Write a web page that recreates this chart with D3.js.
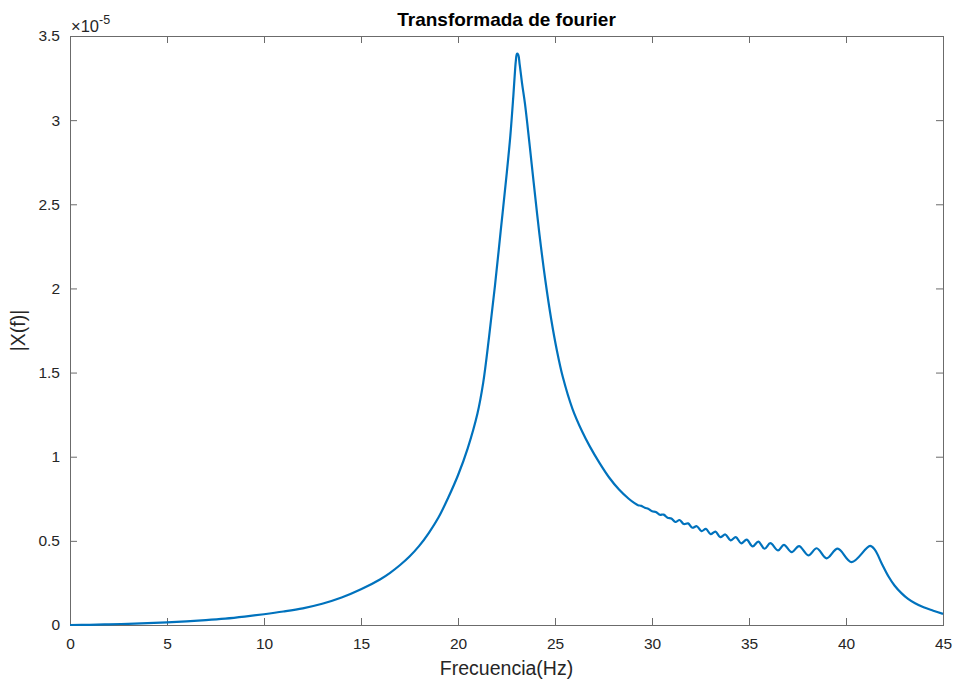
<!DOCTYPE html>
<html>
<head>
<meta charset="utf-8">
<script src="https://cdn.jsdelivr.net/npm/d3@7"></script>
<style>
  html, body { margin: 0; padding: 0; background: #ffffff; }
  svg { display: block; font-family: "Liberation Sans", Arial, Helvetica, sans-serif; }
</style>
</head>
<body>
<svg id="chart" width="959" height="684"></svg>
<script>
// ---- Data (magnitude in units of 1e-5) ----
const freq = [
  0, 1, 2, 3, 4, 5, 6, 7, 8, 9, 10, 11, 12, 13, 14, 15, 16, 16.5, 17, 17.5, 18, 18.5, 19, 19.5, 20, 20.5,
  21, 21.3, 21.6, 21.9, 22.2, 22.5, 22.7, 22.85, 22.92, 22.98, 23.04, 23.1, 23.18, 23.3, 23.45, 23.6, 23.75, 23.9,
  24.2, 24.5, 24.8, 25.1, 25.4, 25.9, 26.4, 26.8, 27.3, 27.8, 28.3, 28.8,
  29.1, 29.28, 29.45, 29.63, 29.82, 30.01, 30.2, 30.4, 30.6, 30.8, 31.0, 31.21, 31.42, 31.64,
  31.86, 32.08, 32.31, 32.55, 32.78, 33.02, 33.27, 33.52, 33.78, 34.05, 34.32, 34.6, 34.88,
  35.19, 35.48, 35.8, 36.1, 36.5, 36.8, 37.2, 37.58, 38.06, 38.49, 39.0, 39.57, 40.29,
  41.24, 41.5, 41.84, 42.2, 42.5, 42.87, 43.2, 43.56, 44.0, 44.5, 45
];
const magnitude = [
  0.000, 0.001, 0.004, 0.007, 0.011, 0.016, 0.022, 0.029, 0.038, 0.050, 0.064, 0.080, 0.099, 0.126, 0.163, 0.212, 0.272, 0.310, 0.355, 0.407, 0.470, 0.548, 0.640, 0.758, 0.890, 1.050,
  1.255, 1.440, 1.710, 2.010, 2.340, 2.670, 2.910, 3.140, 3.260, 3.350, 3.395, 3.390, 3.330, 3.220, 3.100, 2.950, 2.790, 2.630,
  2.320, 2.050, 1.820, 1.630, 1.475, 1.285, 1.150, 1.060, 0.962, 0.875, 0.805, 0.750,
  0.724, 0.712, 0.708, 0.697, 0.690, 0.676, 0.672, 0.655, 0.656, 0.638, 0.633, 0.612, 0.624, 0.600,
  0.604, 0.578, 0.587, 0.558, 0.571, 0.540, 0.555, 0.522, 0.538, 0.503, 0.522, 0.485, 0.507,
  0.467, 0.496, 0.453, 0.486, 0.443, 0.476, 0.433, 0.469, 0.414, 0.456, 0.396, 0.454, 0.374,
  0.470, 0.445, 0.366, 0.287, 0.235, 0.188, 0.155, 0.129, 0.105, 0.085, 0.066
];
const xTicks = [0, 5, 10, 15, 20, 25, 30, 35, 40, 45];
const yTicks = [0, 0.5, 1, 1.5, 2, 2.5, 3, 3.5];
const titleText = "Transformada de fourier";
const xLabelText = "Frecuencia(Hz)";
const yLabelText = "|X(f)|";

// ---- Layout ----
const svg = d3.select("#chart");
const plot = { left: 70, top: 36, right: 943, bottom: 625 };
const x = d3.scaleLinear().domain([0, 45]).range([plot.left, plot.right]);
const y = d3.scaleLinear().domain([0, 3.5]).range([plot.bottom, plot.top]);

const axisColor = "#6b6b6b";
const textColor = "#262626";
const tickLen = 7;

// Bottom axis (ticks inward)
const gx = svg.append("g")
  .attr("transform", `translate(0,${plot.bottom})`)
  .call(d3.axisBottom(x).tickValues(xTicks).tickFormat(d3.format("d"))
    .tickSizeInner(-tickLen).tickSizeOuter(0).tickPadding(13));
// Top axis ticks
const gxt = svg.append("g")
  .attr("transform", `translate(0,${plot.top})`)
  .call(d3.axisTop(x).tickValues(xTicks).tickFormat("")
    .tickSizeInner(-tickLen).tickSizeOuter(0));
// Left axis
const gy = svg.append("g")
  .attr("transform", `translate(${plot.left},0)`)
  .call(d3.axisLeft(y).tickValues(yTicks).tickFormat(d => String(d))
    .tickSizeInner(-tickLen).tickSizeOuter(0).tickPadding(10));
// Right axis ticks
const gyr = svg.append("g")
  .attr("transform", `translate(${plot.right},0)`)
  .call(d3.axisRight(y).tickValues(yTicks).tickFormat("")
    .tickSizeInner(-tickLen).tickSizeOuter(0));

[gx, gxt, gy, gyr].forEach(g => {
  g.select(".domain").remove();
  g.selectAll(".tick line").attr("stroke", axisColor).attr("stroke-width", 1);
  g.selectAll(".tick text").attr("fill", textColor).style("font-size", "15.5px")
    .style("font-family", '"Liberation Sans", Arial, sans-serif');
});

// Frame
svg.append("rect")
  .attr("x", plot.left + 0.5).attr("y", plot.top + 0.5)
  .attr("width", plot.right - plot.left).attr("height", plot.bottom - plot.top)
  .attr("fill", "none").attr("stroke", axisColor).attr("stroke-width", 1);

// Data line
const line = d3.line()
  .x((d, i) => x(freq[i]))
  .y(d => y(d))
  .curve(d3.curveCatmullRom.alpha(0.5));

svg.append("path")
  .datum(magnitude)
  .attr("d", line)
  .attr("fill", "none")
  .attr("stroke", "#0072BD")
  .attr("stroke-width", 2.2)
  .attr("stroke-linejoin", "round");

// Exponent label
const expo = svg.append("text")
  .attr("x", plot.left + 1).attr("y", 32)
  .attr("fill", textColor).style("font-size", "16.5px");
expo.append("tspan").text("\u00D710");
expo.append("tspan").attr("dy", -8).style("font-size", "12.5px").text("-5");

// Title
svg.append("text")
  .attr("x", (plot.left + plot.right) / 2).attr("y", 26)
  .attr("text-anchor", "middle").attr("fill", "#000")
  .style("font-size", "19px").style("font-weight", "bold")
  .text(titleText);

// X label
svg.append("text")
  .attr("x", (plot.left + plot.right) / 2).attr("y", 675)
  .attr("text-anchor", "middle").attr("fill", textColor)
  .style("font-size", "19.5px")
  .text(xLabelText);

// Y label
svg.append("text")
  .attr("transform", `translate(25,${(plot.top + plot.bottom) / 2}) rotate(-90)`)
  .attr("text-anchor", "middle").attr("fill", textColor)
  .style("font-size", "19.5px")
  .text(yLabelText);
</script>
</body>
</html>
